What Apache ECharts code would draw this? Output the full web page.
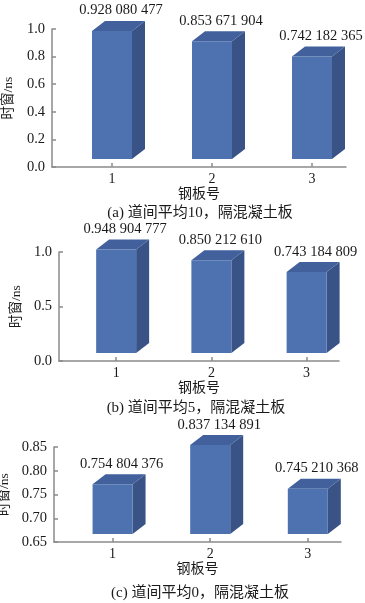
<!DOCTYPE html>
<html><head><meta charset="utf-8">
<script src="https://cdn.jsdelivr.net/npm/echarts@6/dist/echarts.min.js"></script>
<style>html,body{margin:0;padding:0;background:#fff}#c{width:365px;height:603px}</style>
</head><body><div id="c"></div>
<script>
const categories = ['1', '2', '3'];
const valuesA = [0.928080477, 0.853671904, 0.742182365];
const valuesB = [0.948904777, 0.850212610, 0.743184809];
const valuesC = [0.754804376, 0.837134891, 0.745210368];
const yTicksA = [0, 1, 0.2];      // min, max, interval
const yTicksB = [0, 1, 0.5];
const yTicksC = [0.65, 0.85, 0.05];
const captions = ['(a) 道间平均10，隔混凝土板', '(b) 道间平均5，隔混凝土板', '(c) 道间平均0，隔混凝土板'];
const yAxisName = '时窗/ns';
const xAxisName = '钢板号';

const FRONT = '#4e72b0', TOP = '#41609c', SIDE = '#3a5386';
const AXIS = '#8a8a8a', TXT = '#1a1a1a';
const SERIF = '"Liberation Serif","Noto Sans CJK SC",serif';

function fmt(v) {
  const s = v.toFixed(9);
  const d = s.split('.')[1];
  return s.split('.')[0] + '.' + d.slice(0, 3) + ' ' + d.slice(3, 6) + ' ' + d.slice(6, 9);
}

function makeRender(yMin) {
  return function (params, api) {
    const xi = api.value(0), v = api.value(1);
    const pTop = api.coord([xi, v]);
    const pBot = api.coord([xi, yMin]);
    const w = 40, sh = 8, dx = 13, dy = 10;
    const x0 = pTop[0] - w / 2, x1 = pTop[0] + w / 2;
    const yt = pTop[1] - sh, yb = pBot[1] - sh;
    return {
      type: 'group', children: [
        { type: 'polygon', shape: { points: [[x1, yt], [x1 + dx, yt - dy], [x1 + dx, yb - dy], [x1, yb]] }, style: { fill: SIDE } },
        { type: 'polygon', shape: { points: [[x0, yt], [x1, yt], [x1 + dx, yt - dy], [x0 + dx, yt - dy]] }, style: { fill: TOP } },
        { type: 'rect', shape: { x: x0, y: yt, width: w, height: yb - yt }, style: { fill: FRONT } },
        { type: 'text', style: { text: fmt(v), x: pTop[0] + 9, y: yt - dy - 3, align: 'center', verticalAlign: 'bottom', font: '14.5px ' + SERIF, fill: TXT } }
      ]
    };
  };
}

const grids = [
  { left: 52, right: 19, top: 29, bottom: 436, outerBoundsMode: 'none', containLabel: false },
  { left: 59, right: 26, top: 252, bottom: 242, outerBoundsMode: 'none', containLabel: false },
  { left: 54, right: 24, top: 447, bottom: 61, outerBoundsMode: 'none', containLabel: false }
];
const yCfg = [yTicksA, yTicksB, yTicksC];
const yDec = [1, 1, 2];
const yNameGap = [37, 30, 37];
const vals = [valuesA, valuesB, valuesC];
const catVals = categories.map(c => Number(c));

const option = {
  animation: false,
  backgroundColor: '#fff',
  grid: grids,
  xAxis: grids.map((g, i) => ({
    type: 'value', gridIndex: i, min: 0.4, max: 3.34,
    splitLine: { show: false },
    axisLine: { show: true, lineStyle: { color: AXIS, width: 1.5 } },
    axisTick: { show: true, inside: true, length: 4, customValues: catVals, lineStyle: { color: AXIS, width: 1.5 } },
    axisLabel: { customValues: catVals, formatter: v => categories[catVals.indexOf(v)], margin: 5, color: TXT, fontSize: 14, fontFamily: SERIF },
    name: xAxisName, nameLocation: 'middle', nameGap: 19,
    nameTextStyle: { color: TXT, fontSize: 14, fontFamily: SERIF }
  })),
  yAxis: grids.map((g, i) => ({
    type: 'value', gridIndex: i, min: yCfg[i][0], max: yCfg[i][1], interval: yCfg[i][2],
    splitLine: { show: false },
    axisLine: { show: true, lineStyle: { color: AXIS, width: 1.5 } },
    axisTick: { show: true, inside: true, length: 4, lineStyle: { color: AXIS, width: 1.5 } },
    axisLabel: { formatter: v => v.toFixed(yDec[i]), margin: 7, color: TXT, fontSize: 14.5, fontFamily: SERIF },
    name: yAxisName, nameLocation: 'middle', nameGap: yNameGap[i], nameRotate: 90,
    nameTextStyle: { color: TXT, fontSize: 13.5, fontFamily: SERIF }
  })),
  series: vals.map((vs, i) => ({
    type: 'custom', xAxisIndex: i, yAxisIndex: i, clip: false,
    renderItem: makeRender(yCfg[i][0]),
    data: catVals.map((c, k) => [c, vs[k]])
  })),
  graphic: [
    { type: 'text', x: 200, y: 213, style: { text: captions[0], align: 'center', verticalAlign: 'middle', font: '15px ' + SERIF, fill: TXT } },
    { type: 'text', x: 196, y: 408, style: { text: captions[1], align: 'center', verticalAlign: 'middle', font: '15px ' + SERIF, fill: TXT } },
    { type: 'text', x: 200, y: 593, style: { text: captions[2], align: 'center', verticalAlign: 'middle', font: '15px ' + SERIF, fill: TXT } }
  ]
};
const chart = echarts.init(document.getElementById('c'));
chart.setOption(option);
</script></body></html>
